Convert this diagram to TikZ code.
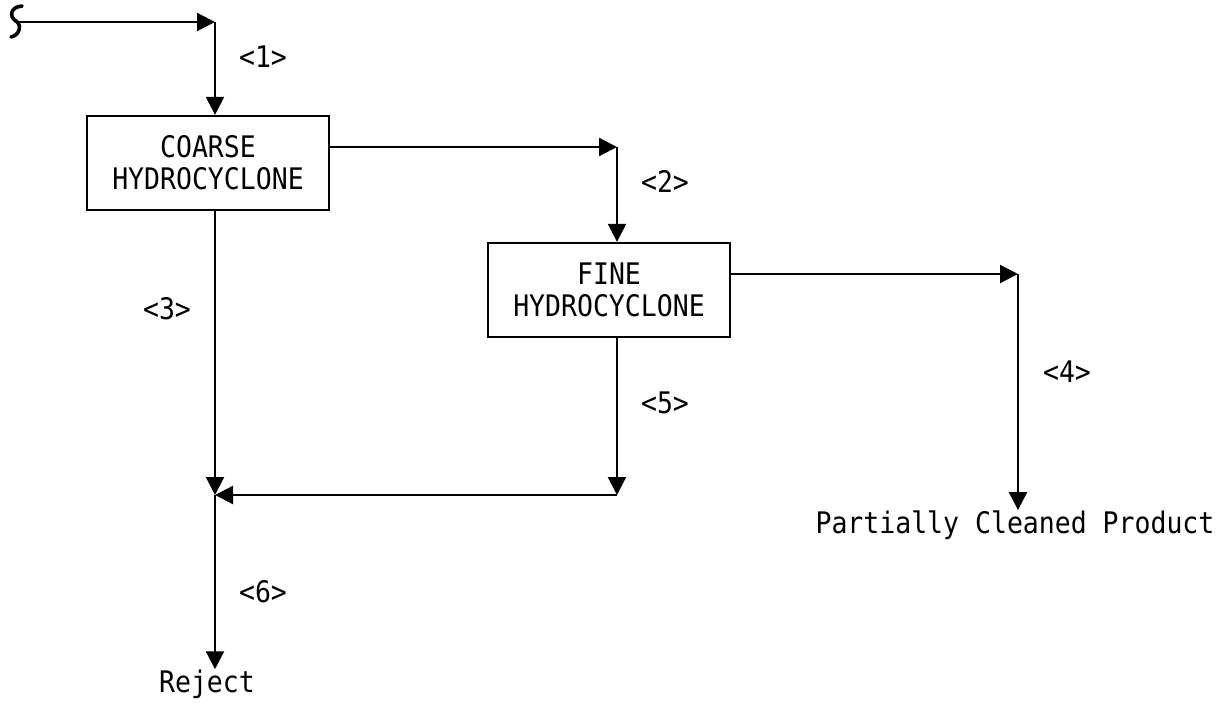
\documentclass[tikz,border=0pt]{standalone}
\usepackage{fontspec}
\setmonofont{DejaVu Sans Mono}
\usetikzlibrary{arrows.meta}
\newcommand{\tallt}[1]{\scalebox{1}[1.12]{#1}}
\tikzset{
  flow/.style={line width=2.2pt, -{Triangle[length=18pt,width=18pt]}},
  unit/.style={draw, line width=2.2pt, minimum width=242pt, minimum height=94pt, inner sep=0pt, align=center, font=\ttfamily\fontsize{26.5}{32}\selectfont},
  lbl/.style={font=\ttfamily\fontsize{26.5}{30}\selectfont, inner sep=0pt},
}
\begin{document}
\begin{tikzpicture}[x=1pt,y=-1pt]
\useasboundingbox (0,0) rectangle (1227,703);
\node[unit] (coarse) at (208,163) {\tallt{COARSE}\\\tallt{HYDROCYCLONE}};
\node[unit] (fine) at (609,290) {\tallt{FINE}\\\tallt{HYDROCYCLONE}};
\coordinate (s) at (17,22);
\coordinate (c1) at (215,22);
\coordinate (c2) at (617,147);
\coordinate (c4) at (1018,274);
\coordinate (c5) at (617,495);
\coordinate (j) at (215,495);
\node[lbl, anchor=base] (product) at (1015,533) {\tallt{Partially Cleaned Product}};
\node[lbl, anchor=base] (reject) at (207,692) {\tallt{Reject}};
% squiggle
\draw[line width=3.6pt, line cap=round] (22,6) .. controls (10,7) and (9,17) .. (16,21) .. controls (22,25) and (20,35) .. (11,37);
% connectors
\draw[flow] (s) -- (c1);
\draw[flow] (c1) -- (c1 |- coarse.north);
\draw[flow] (coarse.east |- c2) -- (c2);
\draw[flow] (c2) -- (c2 |- fine.north);
\draw[flow] (fine.east |- c4) -- (c4);
\draw[flow] (c4) -- (c4 |- product.north);
\draw[flow] (j |- coarse.south) -- (j);
\draw[flow] (c5 |- fine.south) -- (c5);
\draw[flow] (c5) -- (j);
\draw[flow] (j) -- (j |- reject.north);
% labels
\node[lbl] (l1) at (263,57) {\tallt{<1>}};
\node[lbl] (l2) at (665,181) {\tallt{<2>}};
\node[lbl] (l3) at (167,309) {\tallt{<3>}};
\node[lbl] (l4) at (1067,372) {\tallt{<4>}};
\node[lbl] (l5) at (665,403) {\tallt{<5>}};
\node[lbl] (l6) at (263,592) {\tallt{<6>}};
\end{tikzpicture}
\end{document}
